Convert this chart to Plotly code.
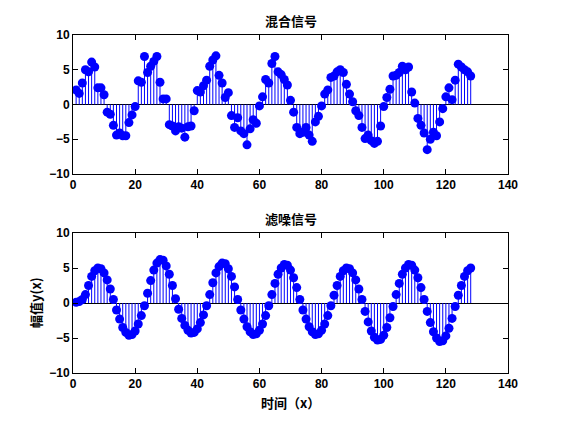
import plotly.graph_objects as go

n = list(range(1, 129))

mixed = [2.1, 1.6, 3.1, 5.0, 4.7, 6.1, 5.4, 2.4, 2.4, 1.4,
         -1.1, -1.4, -3.0, -4.4, -4.1, -4.5, -4.5, -2.6, -1.5, -0.3,
         3.4, 3.2, 6.9, 4.6, 5.5, 6.2, 6.9, 3.2, 0.8, 0.8,
         -2.9, -3.1, -3.8, -3.2, -3.4, -4.7, -3.2, -3.1, -0.9, 2.0,
         1.8, 2.7, 3.5, 5.5, 6.4, 7.0, 4.2, 3.1, 1.0, 1.7,
         -1.6, -3.3, -1.9, -3.8, -4.2, -5.8, -3.5, -2.2, -2.7, -0.2,
         1.1, 3.6, 3.1, 5.9, 6.9, 4.7, 4.3, 3.6, 2.8, 0.6,
         -1.1, -3.3, -4.2, -4.0, -3.3, -4.4, -5.3, -2.5, -1.7, -0.2,
         1.5, 2.1, 3.9, 4.1, 4.7, 5.0, 4.6, 2.9, 1.5, 0.4,
         -0.9, -1.6, -3.3, -4.9, -4.4, -5.2, -5.6, -5.3, -3.1, -0.3,
         1.0, 2.2, 4.1, 4.2, 4.6, 5.5, 5.0, 5.4, 1.8, 0.2,
         -2.0, -3.0, -4.1, -6.5, -5.0, -4.0, -4.5, -2.5, -0.6, 1.1,
         2.4, 0.7, 3.5, 5.8, 5.4, 5.0, 4.7, 4.1]

filtered = [0.1, 0.2, 0.5, 1.2, 2.5, 3.8, 4.6, 5.0, 4.9, 4.3,
            3.3, 2.0, 0.5, -1.0, -2.3, -3.5, -4.2, -4.6, -4.5, -4.0,
            -3.0, -1.8, -0.4, 1.4, 3.2, 4.7, 5.7, 6.2, 6.1, 5.3,
            4.1, 2.5, 0.6, -0.9, -2.2, -3.2, -3.9, -4.3, -4.2, -3.7,
            -2.8, -1.7, -0.4, 1.2, 2.9, 4.3, 5.2, 5.7, 5.6, 4.9,
            3.8, 2.3, 0.5, -1.0, -2.3, -3.4, -4.1, -4.5, -4.4, -3.9,
            -3.0, -1.8, -0.4, 1.2, 2.8, 4.1, 5.0, 5.5, 5.4, 4.7,
            3.6, 2.2, 0.5, -1.0, -2.3, -3.4, -4.1, -4.5, -4.4, -3.9,
            -3.0, -1.8, -0.4, 1.1, 2.5, 3.8, 4.6, 5.0, 4.9, 4.3,
            3.3, 2.0, 0.5, -1.2, -2.7, -4.0, -4.9, -5.3, -5.2, -4.6,
            -3.5, -2.1, -0.5, 1.2, 2.8, 4.1, 5.0, 5.5, 5.4, 4.7,
            3.6, 2.2, 0.5, -1.2, -2.8, -4.1, -5.0, -5.5, -5.4, -4.7,
            -3.6, -2.2, -0.5, 1.1, 2.5, 3.8, 4.6, 5.0]

x_ticks = [0, 20, 40, 60, 80, 100, 120, 140]
y_ticks = [-10, -5, 0, 5, 10]
titles = ["混合信号", "滤噪信号"]
xlabel = "时间（x）"
ylabel = "幅值y(x)"

BLUE = "#0000FF"


def stems(x, y):
    xs, ys = [], []
    for a, b in zip(x, y):
        xs += [a, a, None]
        ys += [0, b, None]
    return xs, ys


fig = go.Figure()
for i, vals in enumerate([mixed, filtered]):
    xa = "x" if i == 0 else "x2"
    ya = "y" if i == 0 else "y2"
    sx, sy = stems(n, vals)
    fig.add_trace(go.Scatter(x=sx, y=sy, mode="lines", xaxis=xa, yaxis=ya,
                             line=dict(color=BLUE, width=1), hoverinfo="skip",
                             showlegend=False))
    fig.add_trace(go.Scatter(x=n, y=vals, mode="markers", xaxis=xa, yaxis=ya,
                             marker=dict(color=BLUE, size=9, line=dict(width=0)),
                             showlegend=False))

tickfont = dict(family="Liberation Sans", size=12, color="black", weight="bold")
axis_common = dict(range=[0, 140], tickvals=x_ticks, ticks="inside", ticklen=5,
                   showline=True, linecolor="black", linewidth=1, mirror="allticks",
                   showgrid=False, zeroline=False, tickfont=tickfont, tickcolor="black")
yaxis_common = dict(range=[-10, 10], tickvals=y_ticks, ticks="inside", ticklen=5,
                    showline=True, linecolor="black", linewidth=1, mirror="allticks",
                    showgrid=False, zeroline=True, zerolinecolor="black", zerolinewidth=1,
                    tickfont=tickfont, tickcolor="black")

# page has an 8px body margin; axes boxes in page pixels: x 73..508, y 35..174 / 233..373
top_bottom = (373 - 174) / 338
bot_top = (373 - 233) / 338

fig.update_layout(
    width=553, height=413,
    margin=dict(l=65, r=53, t=27, b=48),
    paper_bgcolor="white", plot_bgcolor="white",
    xaxis=dict(axis_common, domain=[0, 1], anchor="y"),
    yaxis=dict(yaxis_common, domain=[top_bottom, 1], anchor="x"),
    xaxis2=dict(axis_common, domain=[0, 1], anchor="y2"),
    yaxis2=dict(yaxis_common, domain=[0, bot_top], anchor="x2"),
)

cjk = dict(family="Noto Sans CJK SC", size=13, color="black", weight="bold")
fig.add_annotation(text=titles[0], x=0.5, y=(373 - 20) / 338, xref="paper", yref="paper",
                   showarrow=False, font=cjk, yanchor="middle")
fig.add_annotation(text=titles[1], x=0.5, y=(373 - 218) / 338, xref="paper", yref="paper",
                   showarrow=False, font=cjk, yanchor="middle")
fig.add_annotation(text=xlabel, x=0.5, y=(373 - 402) / 338, xref="paper", yref="paper",
                   showarrow=False, font=cjk, yanchor="middle")
fig.add_annotation(text=ylabel, x=(35 - 73) / 435, y=(373 - 303) / 338, xref="paper", yref="paper",
                   showarrow=False, font=cjk, textangle=-90, xanchor="center", yanchor="middle")

fig.write_html("out.html")
